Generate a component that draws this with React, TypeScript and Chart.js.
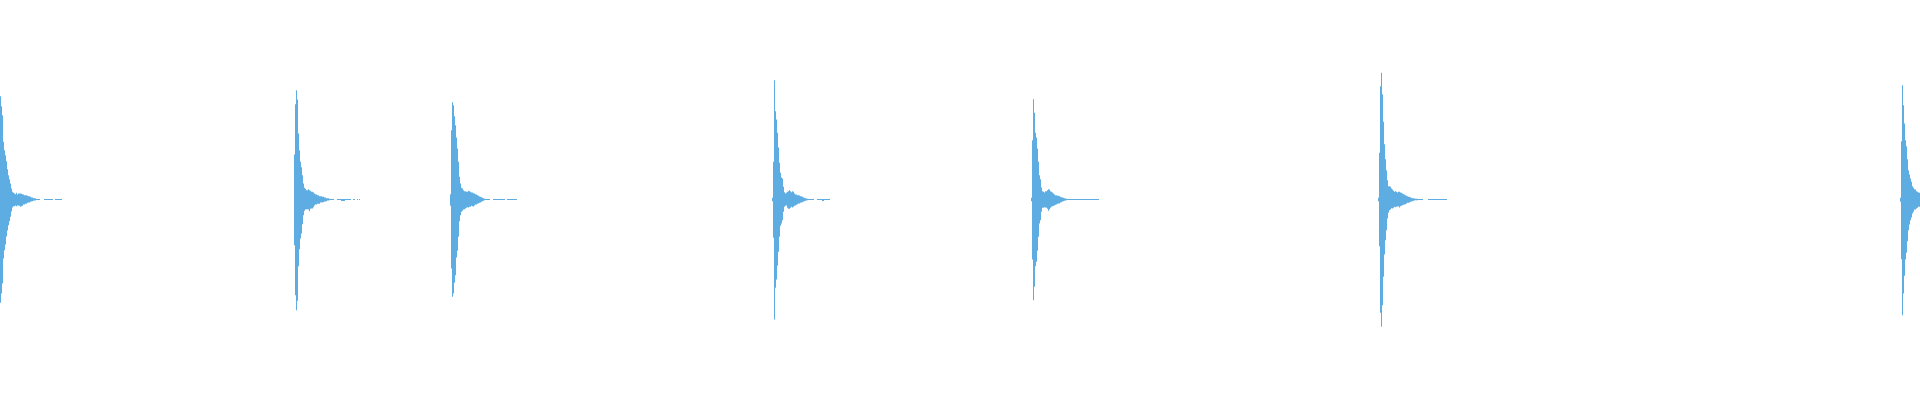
import React, { useEffect, useRef } from 'react';
import { Chart, registerables } from 'chart.js';

Chart.register(...registerables);

const WIDTH = 1920;
const HEIGHT = 400;
const COLOR = '#5DADE2';

// Column (pixel index) where each burst begins
const BURST_STARTS = [0, 294, 450, 772, 1031, 1378, 1900];

// Upper / lower envelope of each burst (amplitude above / below the centre line)
const UPPER_1 = [103.3, 93.3, 84.3, 57.7, 49.3, 44.3, 38.3, 30.3, 24.3, 20.3, 16, 11, 7.7, 6.7, 6, 5.3, 6.7, 5, 6, 6, 6, 5.7, 5.3, 5, 4.3, 4.3, 4.3, 3.7, 3.3, 3.3, 2.7, 2, 2, 1.3, 1.3, 1.3];
const LOWER_1 = [103.3, 94, 84, 59, 50.7, 45, 37, 31, 25.7, 21.7, 17.3, 12, 8, 6.7, 6.7, 6, 6.7, 6, 6, 6.3, 7.3, 6.7, 6.3, 5, 5, 4.3, 4.3, 3.3, 3, 3, 2.3, 2, 1.7, 1.3, 1, 1];

const UPPER_2 = [45, 95.3, 109.3, 100, 66, 49.3, 37.7, 32.3, 24.3, 16, 11.7, 10.7, 9.3, 9.3, 10.3, 9.3, 8.7, 7.7, 7.7, 7, 6, 5.3, 5, 4.3, 4.3, 3.3, 3.3, 3.3, 2.7, 2.7, 2, 2, 1.3, 1.3, 1.3, 0.7, 0.5, 0.5, 0.5, 0.5];
const LOWER_2 = [45.7, 95.7, 110.7, 101.3, 66.7, 49.7, 39, 34, 24.7, 15.7, 11.3, 10, 9.7, 9.7, 10, 11.7, 9.3, 9, 9, 7.7, 6, 5, 5, 4.3, 4.3, 4.3, 3, 3, 2.7, 2.7, 2, 2, 1.7, 1, 1, 0.7, 0.5, 0.5, 0.5, 0.5];

const UPPER_3 = [5.3, 69.3, 97.3, 94.3, 83.3, 74.3, 62, 51, 37.7, 22.7, 16, 11.7, 11, 9.3, 8.3, 8.3, 7.7, 7.7, 8.7, 8.3, 7.7, 7, 7, 6.3, 6, 5.3, 5, 4.3, 3.7, 3, 2.7, 2.3, 1.7, 1.3, 0.7, 0.5, 0.5, 0.5, 0.5, 0.5];
const LOWER_3 = [6.3, 69, 97.3, 94, 83.3, 75.7, 58, 51.3, 37.3, 21.7, 15.7, 12.3, 11.3, 10, 9.7, 9, 8.3, 7.7, 8, 7.3, 7.3, 6.3, 6.7, 7, 6, 5, 5, 4.3, 3.7, 3.3, 3, 2.3, 1.7, 1.3, 0.7, 0.5, 0.5, 0.5, 0.5, 0.5];

const UPPER_4 = [1.7, 37.7, 119.3, 88.3, 80, 66.7, 52, 36.7, 26.7, 22, 21, 12.7, 7.3, 6, 6.7, 7.7, 8.3, 9.3, 8.3, 7.3, 8.3, 7.7, 6, 5, 5, 4.3, 4.3, 4, 3.3, 3.3, 2.7, 2, 1.7, 1.3, 1, 0.7];
const LOWER_4 = [1.7, 38.3, 120, 88.3, 80, 66.3, 52.3, 37.3, 26.3, 24, 20.7, 12.3, 7.3, 6.3, 6, 8.3, 9.3, 9.3, 8.3, 7.3, 8, 7.3, 6.3, 6, 5.3, 4.7, 4, 4, 3.3, 3, 2.7, 2, 1.7, 1.3, 1, 0.7];

const UPPER_5 = [1.7, 59.3, 100.3, 86.7, 66.7, 62, 51, 37.7, 24.3, 20.3, 12, 8.3, 7.7, 7, 8.3, 8.3, 9.3, 10.3, 10, 8.3, 7.7, 7, 6, 5, 4.3, 4.3, 3.7, 3.7, 3.3, 2.7, 2.3, 2, 1.7, 1.3, 1, 0.7];
const LOWER_5 = [1.7, 60, 100.7, 87.3, 66.7, 62.3, 51.3, 37.3, 24, 20.7, 12.3, 8.3, 8.3, 7.7, 8, 8.3, 9.3, 11.3, 9.7, 8.3, 7.3, 6.7, 6.3, 6, 5.3, 5, 4.3, 4, 4, 3, 2.7, 2, 1.7, 1.3, 1, 0.7];

const UPPER_6 = [1.7, 46.7, 113.3, 126.7, 105.3, 77.7, 55.3, 40.3, 29.3, 19.3, 13.3, 13.3, 12.7, 11, 10, 8.7, 7.7, 8.3, 7.7, 7, 7.7, 7.7, 7, 6.7, 6, 5.3, 5, 4.3, 3.7, 3.3, 2.7, 2.7, 2, 1.7, 1.3, 1.3, 1, 0.7, 0.7, 0.7];
const LOWER_6 = [1.7, 46.7, 113.3, 127.3, 105.7, 77.3, 55, 40.7, 30.7, 19, 13.3, 10.7, 10, 8.7, 9, 8.3, 7.3, 7.7, 7.3, 7, 6.7, 8, 6.7, 6.3, 5.7, 5.3, 5, 4.7, 4, 3.3, 3.3, 3, 2.3, 2, 1.7, 1.3, 1, 0.7, 0.7, 0.7];

const UPPER_7 = [1.7, 58.3, 114.3, 94.3, 76, 59.3, 53.3, 40.3, 29.3, 25, 21, 17.7, 13.3, 11.7, 10.3, 10, 8.3, 7.7, 7, 6.7];
const LOWER_7 = [2.3, 59.7, 115.7, 94, 76.3, 60, 53.3, 41.7, 30.7, 25, 20.7, 18, 14, 12.3, 10, 10, 9, 8.3, 7.3, 7.3];

const UPPERS = [UPPER_1, UPPER_2, UPPER_3, UPPER_4, UPPER_5, UPPER_6, UPPER_7];
const LOWERS = [LOWER_1, LOWER_2, LOWER_3, LOWER_4, LOWER_5, LOWER_6, LOWER_7];

// Near-silent tail segments (first and last column, inclusive)
const DASH_STARTS = [36, 44, 55, 337, 353, 357, 359, 493, 507, 808, 817, 1067, 1418, 1428];
const DASH_ENDS = [39, 52, 61, 350, 354, 357, 359, 504, 516, 813, 829, 1098, 1422, 1446];
const DASH_LEVEL = 0.5;

// Tiny dips below the centre line inside the dashes
const DIP_STARTS = [341, 822];
const DIP_ENDS = [344, 823];
const DIP_LEVEL = 1.5;

function buildPoints() {
  const pts: { x: number; y: [number, number] }[] = [];
  UPPERS.forEach((upper, b) => {
    const lower = LOWERS[b];
    upper.forEach((u, i) => {
      const l = lower[i] ?? u;
      pts.push({ x: BURST_STARTS[b] + i, y: [-l, u] });
    });
  });
  DASH_STARTS.forEach((s, d) => {
    for (let x = s; x <= DASH_ENDS[d]; x++) {
      let lo = DASH_LEVEL;
      DIP_STARTS.forEach((ds, k) => {
        if (x >= ds && x <= DIP_ENDS[k]) lo = DIP_LEVEL;
      });
      pts.push({ x, y: [-lo, DASH_LEVEL] });
    }
  });
  pts.sort((a, b) => a.x - b.x);
  return pts;
}

export default function App() {
  const canvasRef = useRef<HTMLCanvasElement | null>(null);

  useEffect(() => {
    const canvas = canvasRef.current;
    if (!canvas) return;
    const chart = new Chart(canvas, {
      type: 'bar',
      data: {
        datasets: [
          {
            data: buildPoints() as any,
            backgroundColor: COLOR,
            borderWidth: 0,
            barThickness: 1,
            inflateAmount: 0,
          } as any,
        ],
      },
      options: {
        responsive: false,
        animation: false,
        devicePixelRatio: 1,
        layout: { padding: 0 },
        plugins: {
          legend: { display: false },
          tooltip: { enabled: false },
        },
        scales: {
          x: {
            type: 'linear',
            min: -0.5,
            max: WIDTH - 0.5,
            offset: false,
            display: false,
          },
          y: {
            min: -200.5,
            max: 199.5,
            display: false,
          },
        },
      },
    });
    return () => chart.destroy();
  }, []);

  return (
    <div style={{ position: 'absolute', left: 0, top: 0, width: WIDTH, height: HEIGHT }}>
      <canvas ref={canvasRef} width={WIDTH} height={HEIGHT} style={{ display: 'block' }} />
    </div>
  );
}
